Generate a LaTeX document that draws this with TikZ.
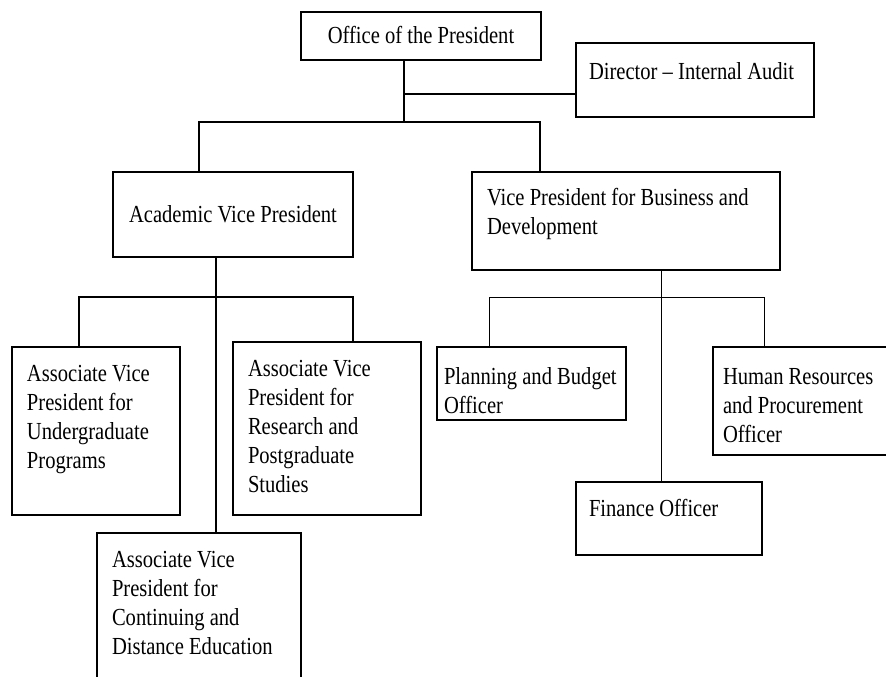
\documentclass[tikz,border=0pt]{standalone}
\usepackage{fontspec}
\setmainfont{Liberation Serif}[FakeStretch=0.84]
\usetikzlibrary{positioning, calc}
\hyphenpenalty=10000
\exhyphenpenalty=10000

\tikzset{
    post/.style={draw, rectangle, line width=1.6pt, anchor=north west, inner ysep=0pt, outer sep=0pt, align=flush left, font=\fontsize{24.5}{29}\selectfont},
    link/.style={line width=1.3pt},
    thinlink/.style={line width=1pt},
    heavylink/.style={line width=2pt}
}

\begin{document}
\begin{tikzpicture}[x=1pt, y=-1pt]
    \useasboundingbox (0,0) rectangle (886,677);

    \node[post, align=center, minimum width=240pt, inner xsep=4pt, text height=32pt, text depth=16pt] (office) at (301,12) {Office of the President};
    \node[post, inner xsep=13pt, text width=212pt, text height=36pt, text depth=38pt] (director) at (576,43) {Director -- Internal Audit};
    \node[post, align=center, minimum width=240pt, inner xsep=4pt, text height=50pt, text depth=35pt] (acad) at (113,172) {Academic Vice President};
    \node[post, inner xsep=15pt, text width=278pt, text height=33pt, text depth=65pt] (business) at (472,172) {Vice President for Business and\\Development};

    \node[post, inner xsep=15pt, text width=138pt, text height=34pt, text depth=134pt] (undergrad) at (12,347) {Associate Vice\\President for\\Undergraduate\\Programs};
    \node[post, inner xsep=15pt, text width=158pt, text height=34pt, text depth=139pt] (research) at (233,342) {Associate Vice\\President for\\Research and\\Postgraduate\\Studies};
    \node[post, inner xsep=15pt, text width=174pt, text height=34pt, text depth=133pt] (contin) at (97,533) {Associate  Vice\\President for\\Continuing and\\Distance Education};

    \node[post, inner xsep=7pt, text width=175pt, text height=37pt, text depth=36pt] (planning) at (437,347) {Planning and Budget\\Officer};
    \node[post, inner xsep=10pt, text width=180pt, text height=37pt, text depth=71pt] (hr) at (713,347) {Human Resources\\and Procurement\\Officer};
    \node[post, inner xsep=13pt, text width=160pt, text height=34pt, text depth=39pt] (finance) at (576,482) {Finance Officer};

    % top level
    \coordinate (trunk) at (404,122);
    \coordinate (audittap) at (404,94);
    \coordinate (lefttap) at (199,122);
    \coordinate (righttap) at (540,122);
    \draw[heavylink] (office.south -| trunk) -- (trunk);
    \draw[heavylink] (audittap) -- (audittap -| director.west);
    \draw[link] (lefttap |- acad.north) -- (lefttap) -- (righttap) -- (righttap |- business.north);

    % academic side
    \coordinate (acadbus) at (216,297);
    \coordinate (ugtap) at (79,297);
    \coordinate (rstap) at (353,297);
    \draw[link] (acad.south -| acadbus) -- (acadbus |- contin.north);
    \draw[link] (ugtap |- undergrad.north) -- (ugtap) -- (rstap) -- (rstap |- research.north);

    % business side
    \coordinate (bizbus) at (661,297);
    \coordinate (pltap) at (489,297);
    \coordinate (hrtap) at (764,297);
    \draw[thinlink] (business.south -| bizbus) -- (bizbus |- finance.north);
    \draw[thinlink] (pltap |- planning.north) -- (pltap) -- (hrtap) -- (hrtap |- hr.north);
\end{tikzpicture}
\end{document}
